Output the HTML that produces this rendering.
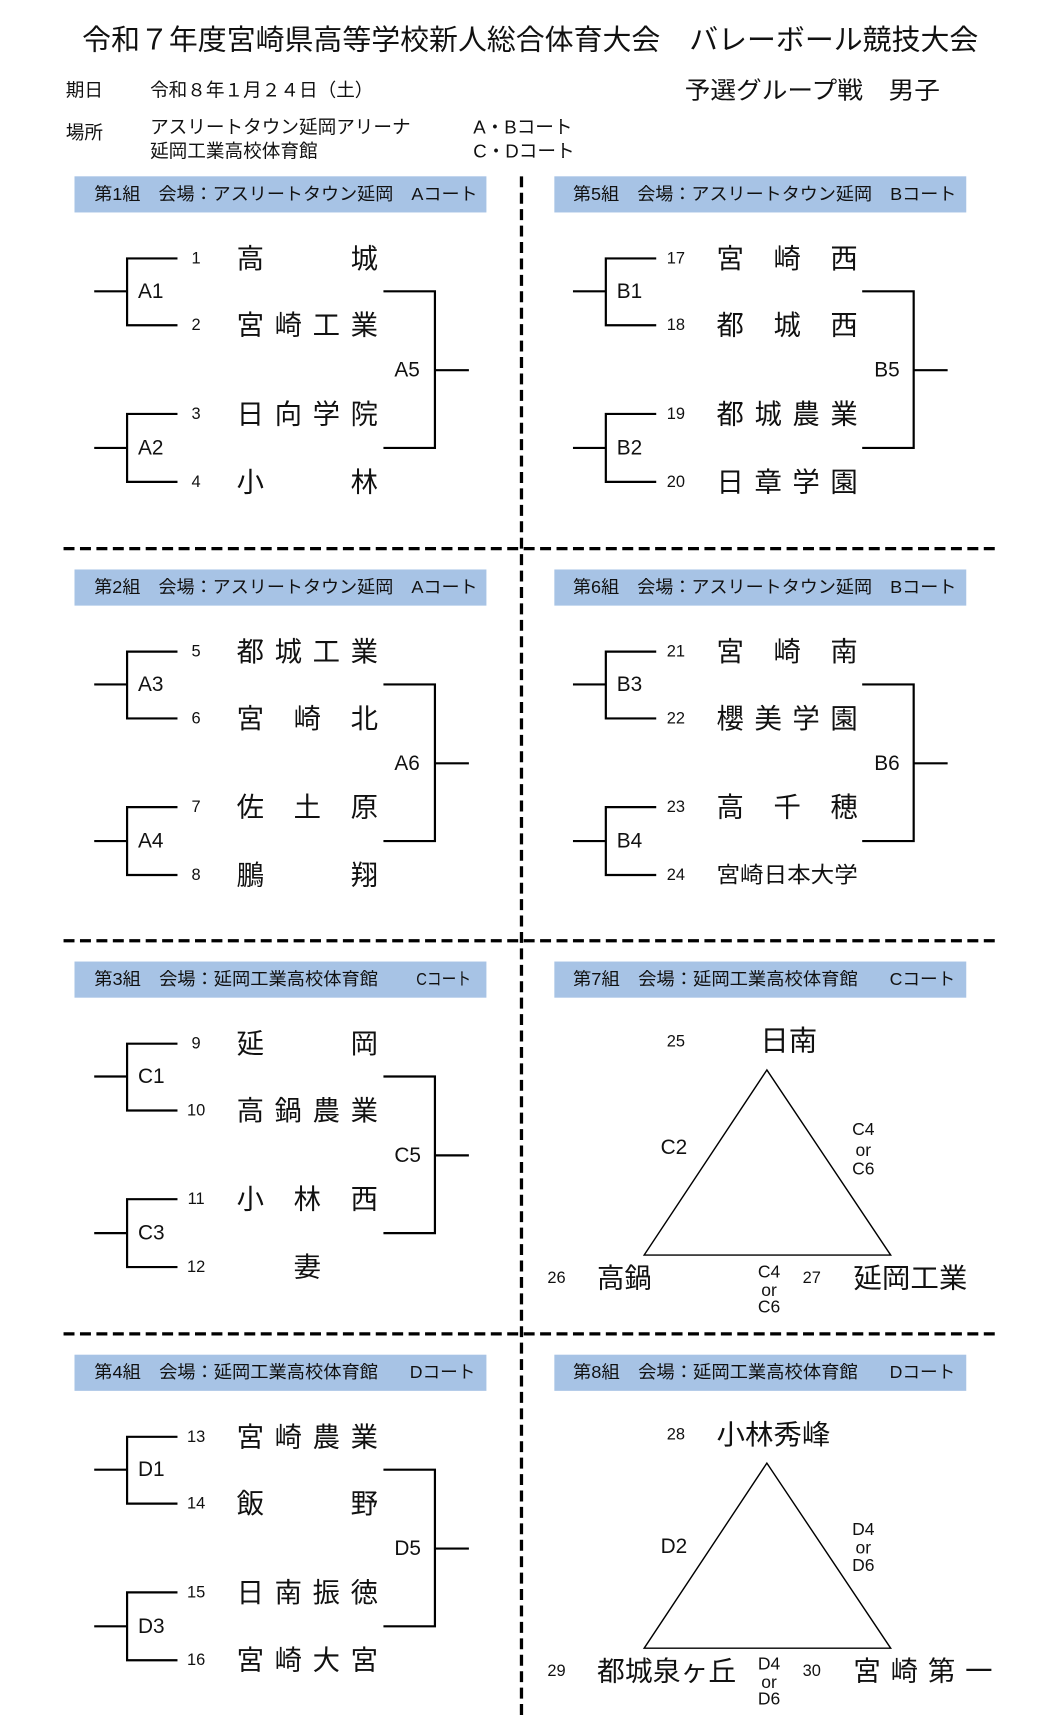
<!DOCTYPE html>
<html><head><meta charset="utf-8"><style>
html,body{margin:0;padding:0;background:#fff}
svg{display:block}
text{font-family:"Liberation Sans","Noto Sans CJK JP",sans-serif;fill:#111;dominant-baseline:central}
.n{font-size:25px}
.num{font-size:15px;text-anchor:middle}
.lb{font-size:19px}
.hd{font-size:16px}
line,polyline,polygon{stroke:#000;stroke-width:2;fill:none}
.dash{stroke-width:3;stroke-dasharray:10,5}
</style></head><body>
<svg width="1055" height="1715" viewBox="0 0 963 1566" preserveAspectRatio="none" xmlns="http://www.w3.org/2000/svg">
<defs>
<g id="br">
<line x1="86" y1="105" x2="116" y2="105"/><polyline points="162,75 116,75 116,136 162,136"/>
<line x1="86" y1="248" x2="116" y2="248"/><polyline points="162,217 116,217 116,279 162,279"/>
<polyline points="350,105 397,105 397,248 350,248"/><line x1="397" y1="177" x2="428" y2="177"/>
</g>
</defs>
<text x="484" y="37" style="font-size:26px;text-anchor:middle" textLength="818" lengthAdjust="spacingAndGlyphs">令和７年度宮崎県高等学校新人総合体育大会　バレーボール競技大会</text>
<text x="60" y="82" style="font-size:17px">期日</text>
<text x="137" y="82" style="font-size:17px">令和８年１月２４日（土）</text>
<text x="625" y="83" style="font-size:22px" textLength="233" lengthAdjust="spacingAndGlyphs">予選グループ戦　男子</text>
<text x="60" y="121" style="font-size:17px">場所</text>
<text x="137" y="116" style="font-size:17px">アスリートタウン延岡アリーナ</text>
<text x="137" y="138" style="font-size:17px">延岡工業高校体育館</text>
<text x="432" y="116" style="font-size:17px">A・Bコート</text>
<text x="432" y="138" style="font-size:17px">C・Dコート</text>

<line class="dash" x1="476" y1="161" x2="476" y2="1566"/>
<line class="dash" x1="58" y1="501" x2="913" y2="501"/>
<line class="dash" x1="58" y1="859" x2="913" y2="859"/>
<line class="dash" x1="58" y1="1218" x2="913" y2="1218"/>

<rect x="68" y="161" width="376" height="33" fill="#a7c3e5"/><rect x="506" y="161" width="376" height="33" fill="#a7c3e5"/>
<rect x="68" y="520" width="376" height="33" fill="#a7c3e5"/><rect x="506" y="520" width="376" height="33" fill="#a7c3e5"/>
<rect x="68" y="878" width="376" height="33" fill="#a7c3e5"/><rect x="506" y="878" width="376" height="33" fill="#a7c3e5"/>
<rect x="68" y="1237" width="376" height="33" fill="#a7c3e5"/><rect x="506" y="1237" width="376" height="33" fill="#a7c3e5"/>
<text class="hd" x="86" y="177" textLength="350" lengthAdjust="spacingAndGlyphs">第1組　会場：アスリートタウン延岡　Aコート</text>
<text class="hd" x="523" y="177" textLength="350" lengthAdjust="spacingAndGlyphs">第5組　会場：アスリートタウン延岡　Bコート</text>
<text class="hd" x="86" y="536" textLength="350" lengthAdjust="spacingAndGlyphs">第2組　会場：アスリートタウン延岡　Aコート</text>
<text class="hd" x="523" y="536" textLength="350" lengthAdjust="spacingAndGlyphs">第6組　会場：アスリートタウン延岡　Bコート</text>
<text class="hd" x="86" y="894" textLength="259" lengthAdjust="spacingAndGlyphs">第3組　会場：延岡工業高校体育館</text><text class="hd" x="380" y="894" textLength="50" lengthAdjust="spacingAndGlyphs">Cコート</text>
<text class="hd" x="523" y="894" textLength="260" lengthAdjust="spacingAndGlyphs">第7組　会場：延岡工業高校体育館</text><text class="hd" x="812" y="894" textLength="60" lengthAdjust="spacingAndGlyphs">Cコート</text>
<text class="hd" x="86" y="1253" textLength="259" lengthAdjust="spacingAndGlyphs">第4組　会場：延岡工業高校体育館</text><text class="hd" x="374" y="1253" textLength="60" lengthAdjust="spacingAndGlyphs">Dコート</text>
<text class="hd" x="523" y="1253" textLength="260" lengthAdjust="spacingAndGlyphs">第8組　会場：延岡工業高校体育館</text><text class="hd" x="812" y="1253" textLength="60" lengthAdjust="spacingAndGlyphs">Dコート</text>

<g transform="translate(0,161)"><use href="#br"/>
<text class="num" x="179" y="75">1</text><text class="num" x="179" y="136">2</text><text class="num" x="179" y="217">3</text><text class="num" x="179" y="279">4</text>
<text class="n" x="216" y="75" textLength="129" lengthAdjust="spacing">高城</text>
<text class="n" x="216" y="136" textLength="129" lengthAdjust="spacing">宮崎工業</text>
<text class="n" x="216" y="217" textLength="129" lengthAdjust="spacing">日向学院</text>
<text class="n" x="216" y="279" textLength="129" lengthAdjust="spacing">小林</text>
<text class="lb" x="126" y="105">A1</text><text class="lb" x="126" y="248">A2</text><text class="lb" x="360" y="177">A5</text>
</g>
<g transform="translate(0,520)"><use href="#br"/>
<text class="num" x="179" y="75">5</text><text class="num" x="179" y="136">6</text><text class="num" x="179" y="217">7</text><text class="num" x="179" y="279">8</text>
<text class="n" x="216" y="75" textLength="129" lengthAdjust="spacing">都城工業</text>
<text class="n" x="216" y="136" textLength="129" lengthAdjust="spacing">宮崎北</text>
<text class="n" x="216" y="217" textLength="129" lengthAdjust="spacing">佐土原</text>
<text class="n" x="216" y="279" textLength="129" lengthAdjust="spacing">鵬翔</text>
<text class="lb" x="126" y="105">A3</text><text class="lb" x="126" y="248">A4</text><text class="lb" x="360" y="177">A6</text>
</g>
<g transform="translate(0,878)"><use href="#br"/>
<text class="num" x="179" y="75">9</text><text class="num" x="179" y="136">10</text><text class="num" x="179" y="217">11</text><text class="num" x="179" y="279">12</text>
<text class="n" x="216" y="75" textLength="129" lengthAdjust="spacing">延岡</text>
<text class="n" x="216" y="136" textLength="129" lengthAdjust="spacing">高鍋農業</text>
<text class="n" x="216" y="217" textLength="129" lengthAdjust="spacing">小林西</text>
<text class="n" x="268" y="279">妻</text>
<text class="lb" x="126" y="105">C1</text><text class="lb" x="126" y="248">C3</text><text class="lb" x="360" y="177">C5</text>
</g>
<g transform="translate(0,1237)"><use href="#br"/>
<text class="num" x="179" y="75">13</text><text class="num" x="179" y="136">14</text><text class="num" x="179" y="217">15</text><text class="num" x="179" y="279">16</text>
<text class="n" x="216" y="75" textLength="129" lengthAdjust="spacing">宮崎農業</text>
<text class="n" x="216" y="136" textLength="129" lengthAdjust="spacing">飯野</text>
<text class="n" x="216" y="217" textLength="129" lengthAdjust="spacing">日南振徳</text>
<text class="n" x="216" y="279" textLength="129" lengthAdjust="spacing">宮崎大宮</text>
<text class="lb" x="126" y="105">D1</text><text class="lb" x="126" y="248">D3</text><text class="lb" x="360" y="177">D5</text>
</g>
<g transform="translate(437,161)"><use href="#br"/>
<text class="num" x="180" y="75">17</text><text class="num" x="180" y="136">18</text><text class="num" x="180" y="217">19</text><text class="num" x="180" y="279">20</text>
<text class="n" x="217" y="75" textLength="129" lengthAdjust="spacing">宮崎西</text>
<text class="n" x="217" y="136" textLength="129" lengthAdjust="spacing">都城西</text>
<text class="n" x="217" y="217" textLength="129" lengthAdjust="spacing">都城農業</text>
<text class="n" x="217" y="279" textLength="129" lengthAdjust="spacing">日章学園</text>
<text class="lb" x="126" y="105">B1</text><text class="lb" x="126" y="248">B2</text><text class="lb" x="361" y="177">B5</text>
</g>
<g transform="translate(437,520)"><use href="#br"/>
<text class="num" x="180" y="75">21</text><text class="num" x="180" y="136">22</text><text class="num" x="180" y="217">23</text><text class="num" x="180" y="279">24</text>
<text class="n" x="217" y="75" textLength="129" lengthAdjust="spacing">宮崎南</text>
<text class="n" x="217" y="136" textLength="129" lengthAdjust="spacing">櫻美学園</text>
<text class="n" x="217" y="217" textLength="129" lengthAdjust="spacing">高千穂</text>
<text x="217" y="279" style="font-size:20px" textLength="129" lengthAdjust="spacingAndGlyphs">宮崎日本大学</text>
<text class="lb" x="126" y="105">B3</text><text class="lb" x="126" y="248">B4</text><text class="lb" x="361" y="177">B6</text>
</g>
<g>
<polygon points="700,977 588,1146 813,1146" style="stroke-width:1.3"/>
<text class="num" x="617" y="951">25</text>
<text style="font-size:26px" x="694" y="951">日南</text>
<text class="lb" x="603" y="1048">C2</text>
<text class="num" style="font-size:16px" x="788" y="1031">C4</text><text class="num" style="font-size:16px" x="788" y="1050">or</text><text class="num" style="font-size:16px" x="788" y="1067">C6</text>
<text class="num" x="508" y="1167">26</text>
<text style="font-size:25px" x="545" y="1167">高鍋</text>
<text class="num" style="font-size:16px" x="702" y="1161">C4</text><text class="num" style="font-size:16px" x="702" y="1178">or</text><text class="num" style="font-size:16px" x="702" y="1193">C6</text>
<text class="num" x="741" y="1167">27</text>
<text style="font-size:25px" x="779" y="1167" textLength="104" lengthAdjust="spacingAndGlyphs">延岡工業</text>
</g>
<g>
<polygon points="700,1336 588,1505 813,1505" style="stroke-width:1.3"/>
<text class="num" x="617" y="1310">28</text>
<text style="font-size:25px" x="654" y="1310" textLength="104" lengthAdjust="spacingAndGlyphs">小林秀峰</text>
<text class="lb" x="603" y="1412">D2</text>
<text class="num" style="font-size:16px" x="788" y="1396">D4</text><text class="num" style="font-size:16px" x="788" y="1413">or</text><text class="num" style="font-size:16px" x="788" y="1429">D6</text>
<text class="num" x="508" y="1526">29</text>
<text style="font-size:25px" x="545" y="1526" textLength="127" lengthAdjust="spacingAndGlyphs">都城泉ヶ丘</text>
<text class="num" style="font-size:16px" x="702" y="1519">D4</text><text class="num" style="font-size:16px" x="702" y="1536">or</text><text class="num" style="font-size:16px" x="702" y="1551">D6</text>
<text class="num" x="741" y="1526">30</text>
<text class="n" x="779" y="1526" textLength="127" lengthAdjust="spacing">宮崎第一</text>
</g>
</svg>
</body></html>
